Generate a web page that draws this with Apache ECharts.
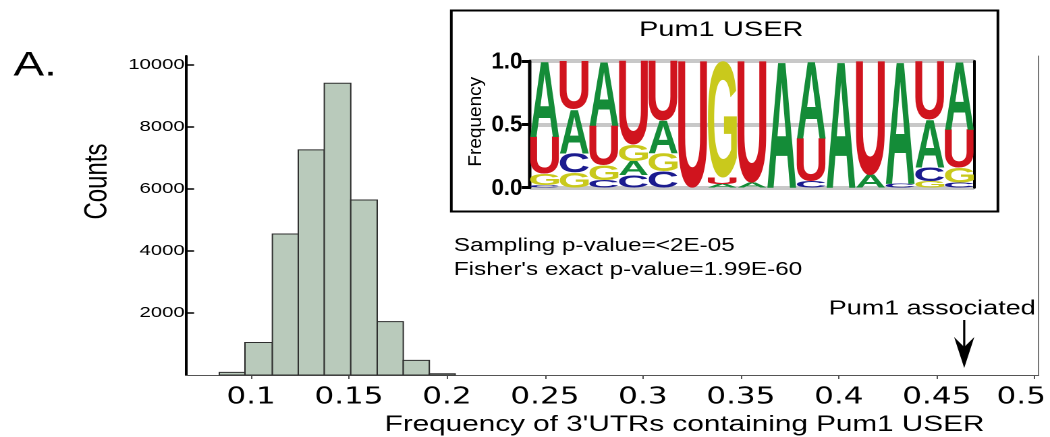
<!DOCTYPE html>
<html>
<head>
<meta charset="utf-8">
<script src="https://cdn.jsdelivr.net/npm/echarts/dist/echarts.min.js"></script>
<style>
html,body{margin:0;padding:0;background:#fff;overflow:hidden;}
#wrap{width:1050px;height:437px;overflow:hidden;position:relative;}
#chart{width:778px;height:437px;transform:scaleX(1.3496);transform-origin:0 0;}
</style>
</head>
<body>
<div id="wrap"><div id="chart"></div></div>
<script>
// ---------------- Histogram data ----------------
const binStart  = [0.0838, 0.0969, 0.1109, 0.1241, 0.1374, 0.1509, 0.1644, 0.1777, 0.1910];
const binEnd    = [0.0969, 0.1109, 0.1241, 0.1374, 0.1509, 0.1644, 0.1777, 0.1910, 0.2042];
const binCounts = [85, 1050, 4550, 7260, 9410, 5645, 1720, 470, 40];
const xTickValues = [0.1, 0.15, 0.2, 0.25, 0.3, 0.35, 0.4, 0.45, 0.5];
const xTickLabels = ['0.1', '0.15', '0.2', '0.25', '0.3', '0.35', '0.4', '0.45', '0.5'];
const yTickValues = [2000, 4000, 6000, 8000, 10000];
const observedValue = 0.464;            // Pum1 associated frequency
const arrowCounts = [1774, 226];        // arrow shaft top / arrow tip (count units)

// ---------------- Sequence logo data ----------------
const logoPositions = ['1','2','3','4','5','6','7','8','9','10','11','12','13','14','15'];
const freqA = [0.60, 0.35, 0.51, 0.11, 0.26, 0.00, 0.03, 0.04, 1.00, 0.61, 1.00, 0.10, 0.97, 0.38, 0.54];
const freqC = [0.02, 0.15, 0.06, 0.10, 0.13, 0.00, 0.00, 0.00, 0.00, 0.05, 0.00, 0.00, 0.03, 0.11, 0.04];
const freqG = [0.09, 0.12, 0.12, 0.13, 0.14, 0.00, 0.92, 0.00, 0.00, 0.00, 0.00, 0.00, 0.00, 0.05, 0.12];
const freqU = [0.29, 0.38, 0.31, 0.66, 0.47, 1.00, 0.05, 0.96, 0.00, 0.34, 0.00, 0.90, 0.00, 0.46, 0.30];
const logoTicks = [0, 0.5, 1.0];

const letters = ['A', 'C', 'G', 'U'];
const letterColors = { A: '#148c38', C: '#1b1b8f', G: '#c9c91c', U: '#d0141e' };
const FONT = '"Liberation Sans", Arial, Helvetica, sans-serif';
const LOGO_FONT = 'bold 100px "Liberation Sans", Arial, sans-serif';

// glyph metrics (relative to center/middle anchor as zrender draws them)
const mctx = document.createElement('canvas').getContext('2d');
mctx.font = LOGO_FONT; mctx.textAlign = 'center'; mctx.textBaseline = 'middle';
const glyph = {};
letters.forEach(l => {
  const t = mctx.measureText(l);
  glyph[l] = { L: t.actualBoundingBoxLeft, R: t.actualBoundingBoxRight,
               A: t.actualBoundingBoxAscent, D: t.actualBoundingBoxDescent };
});

// build stacked logo cells
const logoCells = [];
logoPositions.forEach((p, i) => {
  const f = [freqA[i], freqC[i], freqG[i], freqU[i]];
  const order = [0, 1, 2, 3].filter(k => f[k] > 0).sort((a, b) => f[a] - f[b]);
  let acc = 0;
  order.forEach(k => { logoCells.push([i, acc, acc + f[k], k]); acc += f[k]; });
});

const histData = binCounts.map((c, i) => [binStart[i], binEnd[i], c]);

function renderHist(params, api) {
  const p0 = api.coord([api.value(0), api.value(2)]);
  const p1 = api.coord([api.value(1), 0]);
  return { type: 'rect',
    shape: { x: p0[0], y: p0[1], width: p1[0] - p0[0], height: p1[1] - p0[1] },
    style: { fill: '#b9cabb', stroke: '#2e2e2e', lineWidth: 1 } };
}

function renderArrow(params, api) {
  const x = api.value(0);
  const top = api.coord([x, api.value(1)]);
  const tip = api.coord([x, api.value(2)]);
  const headLen = 31, halfW = 7.5, notch = 21;
  return { type: 'group', children: [
    { type: 'line', shape: { x1: top[0], y1: top[1], x2: tip[0], y2: tip[1] - notch },
      style: { stroke: '#000', lineWidth: 1.6 } },
    { type: 'polygon', shape: { points: [[tip[0], tip[1]], [tip[0] - halfW, tip[1] - headLen],
      [tip[0], tip[1] - notch], [tip[0] + halfW, tip[1] - headLen]] }, style: { fill: '#000' } }
  ] };
}

function renderLogo(params, api) {
  const pos = api.value(0), y0 = api.value(1), y1 = api.value(2);
  const l = letters[api.value(3)];
  const b = api.coord([pos, y0]);
  const t = api.coord([pos, y1]);
  const w = api.size([1, 0])[0] * 0.98;
  const h = b[1] - t[1];
  if (h < 0.2) return;
  const m = glyph[l];
  const sx = w / (m.L + m.R), sy = h / (m.A + m.D);
  const x0 = b[0] - w / 2;
  return { type: 'text', x: x0 + sx * m.L, y: t[1] + sy * m.A, scaleX: sx, scaleY: sy,
    style: { legacy: false, text: l, font: LOGO_FONT, fill: letterColors[l],
             align: 'center', verticalAlign: 'middle', x: 0, y: 0 } };
}

// logo y-axis tick labels (narrow bold, placed on the logo axis scale)
function renderLogoTickLabel(params, api) {
  const v = api.value(1);
  const p = api.coord([0, v]);
  const bw = api.size([1, 0])[0];
  return { type: 'text', x: p[0] - bw / 2 - 5.5, y: p[1] + 1, scaleX: 0.72,
    style: { legacy: false, text: v.toFixed(1), font: 'bold 23px ' + FONT, fill: '#000',
             align: 'right', verticalAlign: 'middle', x: 0, y: 0 } };
}

const chart = echarts.init(document.getElementById('chart'), null, { renderer: 'canvas', devicePixelRatio: 2 });

const option = {
  animation: false,
  backgroundColor: '#ffffff',
  title: {
    text: 'Pum1 USER', left: 534.4, top: 19, padding: 0, textAlign: 'center',
    textStyle: { fontFamily: FONT, fontSize: 21.5, fontWeight: 'normal', color: '#000' }
  },
  grid: [
    { left: 137.8, right: 8.4, top: 56, bottom: 62, outerBoundsMode: 'none', containLabel: false },
    { left: 392.6, right: 56.1, top: 61, bottom: 249.3, outerBoundsMode: 'none', containLabel: false }
  ],
  xAxis: [
    { type: 'value', gridIndex: 0, min: 0.0668, max: 0.502,
      axisLine: { lineStyle: { color: '#555', width: 1 } },
      axisTick: { customValues: xTickValues, length: 4, lineStyle: { color: '#555', width: 1 } },
      axisLabel: { customValues: xTickValues, margin: 11, color: '#000', fontFamily: '"DejaVu Sans", sans-serif', fontSize: 23,
        formatter: function (v) {
          const i = xTickValues.findIndex(t => Math.abs(t - v) < 1e-9);
          const s = i >= 0 ? xTickLabels[i] : '';
          return i === xTickValues.length - 1 ? '{last|' + s + '}' : s;
        },
        rich: { last: { fontFamily: '"DejaVu Sans", sans-serif', fontSize: 23, color: '#000', padding: [0, 20, 0, 0] } } },
      splitLine: { show: false },
      name: "Frequency of 3'UTRs containing Pum1 USER", nameLocation: 'middle', nameGap: 38,
      nameTextStyle: { fontFamily: FONT, fontSize: 22, color: '#000', padding: [0, 0, 0, 107] } },
    { type: 'category', gridIndex: 1, data: logoPositions, show: false, boundaryGap: true }
  ],
  yAxis: [
    { type: 'value', gridIndex: 0, min: 0, max: 10290,
      axisLine: { show: true, lineStyle: { color: '#000', width: 2 } },
      axisTick: { show: true, inside: true, length: 6, customValues: yTickValues, lineStyle: { color: '#000', width: 1.5 } },
      axisLabel: { customValues: yTickValues, margin: 1, color: '#000', fontFamily: FONT, fontSize: 15,
        formatter: v => String(v) },
      splitLine: { show: false },
      name: 'Counts', nameLocation: 'middle', nameRotate: 90, nameGap: 46,
      nameTextStyle: { fontFamily: FONT, fontSize: 24, color: '#000', padding: [0, 0, 0, 68] } },
    { type: 'value', gridIndex: 0, position: 'right', min: 0, max: 10290,
      axisLine: { show: true, lineStyle: { color: '#777', width: 1 } },
      axisTick: { show: false }, axisLabel: { show: false }, splitLine: { show: false } },
    { type: 'value', gridIndex: 1, min: 0, max: 1, interval: 0.5,
      axisLine: { show: true, lineStyle: { color: '#000', width: 2.5 } },
      axisTick: { show: true, length: 6, lineStyle: { color: '#000', width: 3 } },
      axisLabel: { show: false },
      splitLine: { show: true, lineStyle: { color: '#c8c8c8', width: 4 } } },
    { type: 'value', gridIndex: 1, position: 'right', min: 0, max: 1,
      axisLine: { show: true, lineStyle: { color: '#000', width: 2 } },
      axisTick: { show: false }, axisLabel: { show: false }, splitLine: { show: false } }
  ],
  series: [
    { type: 'custom', name: 'Sampled frequencies', xAxisIndex: 0, yAxisIndex: 0,
      renderItem: renderHist, encode: { x: [0, 1], y: 2 }, data: histData, silent: true },
    { type: 'custom', name: 'Pum1 associated', xAxisIndex: 0, yAxisIndex: 0, renderItem: renderArrow,
      encode: { x: 0, y: [1, 2] }, data: [[observedValue, arrowCounts[0], arrowCounts[1]]], silent: true, clip: false },
    { type: 'custom', name: 'Logo', xAxisIndex: 1, yAxisIndex: 2, renderItem: renderLogo,
      encode: { x: 0, y: [1, 2] }, data: logoCells, silent: true, z: 5 },
    { type: 'custom', name: 'Logo ticks', xAxisIndex: 1, yAxisIndex: 2, renderItem: renderLogoTickLabel,
      encode: { x: 0, y: 1 }, data: logoTicks.map(v => [0, v]), silent: true, clip: false, z: 5 }
  ],
  graphic: [
    { type: 'rect', left: 331.9, top: 8, shape: { width: 405, height: 201 }, z: 1,
      style: { fill: 'none', stroke: '#000', lineWidth: 2 } },
    { type: 'text', x: 10, y: 66, style: { text: 'A.', font: '34px ' + FONT, fill: '#000', textVerticalAlign: 'middle' } },
    { type: 'text', x: 352.6, y: 121.7, rotation: Math.PI / 2, scaleY: 0.72,
      style: { text: 'Frequency', font: '19px ' + FONT, fill: '#000', textAlign: 'center', textVerticalAlign: 'middle' } },
    { type: 'text', x: 336.3, y: 245.8, style: { text: 'Sampling p-value=<2E-05', font: '18px ' + FONT, fill: '#000', textVerticalAlign: 'middle' } },
    { type: 'text', x: 336.3, y: 269.8, style: { text: "Fisher's exact p-value=1.99E-60", font: '18px ' + FONT, fill: '#000', textVerticalAlign: 'middle' } },
    { type: 'text', x: 614, y: 309, style: { text: 'Pum1 associated', font: '20px ' + FONT, fill: '#000', textVerticalAlign: 'middle' } }
  ]
};
chart.setOption(option);
</script>
</body>
</html>
